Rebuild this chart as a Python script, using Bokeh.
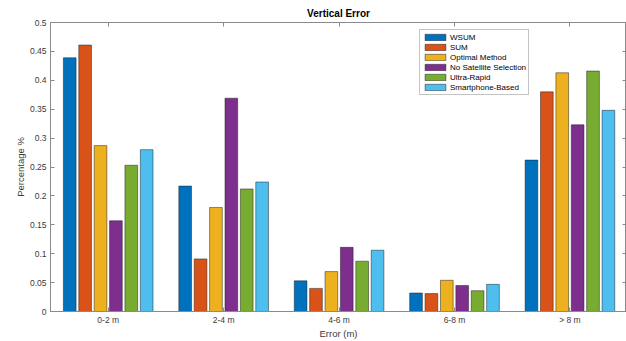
from bokeh.plotting import figure
from bokeh.models import (ColumnDataSource, Range1d, FixedTicker, LinearAxis,
                          CustomJSTickFormatter)
from bokeh.transform import dodge
from bokeh.embed import file_html
from bokeh.resources import INLINE

# ---- data ----
categories = ["0-2 m", "2-4 m", "4-6 m", "6-8 m", "> 8 m"]
series_names = ["WSUM", "SUM", "Optimal Method", "No Satellite Selection",
                "Ultra-Rapid", "Smartphone-Based"]
wsum = [0.439, 0.217, 0.053, 0.032, 0.262]
sum_vals = [0.461, 0.091, 0.040, 0.031, 0.380]
optimal = [0.287, 0.180, 0.069, 0.054, 0.413]
no_sat = [0.157, 0.369, 0.111, 0.045, 0.323]
ultra_rapid = [0.253, 0.212, 0.087, 0.036, 0.416]
smartphone = [0.280, 0.224, 0.106, 0.047, 0.348]
y_ticks = [0, 0.05, 0.1, 0.15, 0.2, 0.25, 0.3, 0.35, 0.4, 0.45, 0.5]

colors = ["#0072BD", "#D95319", "#EDB120", "#7E2F8E", "#77AC30", "#4DBEEE"]
series = [wsum, sum_vals, optimal, no_sat, ultra_rapid, smartphone]
keys = ["s0", "s1", "s2", "s3", "s4", "s5"]

pos = list(range(1, len(categories) + 1))
data = {"x": pos}
for k, s in zip(keys, series):
    data[k] = s
source = ColumnDataSource(data)

FONT = "Liberation Sans"
AX = "#8a8a8a"
TXT = "#3a3a3a"

p = figure(width=626, height=341, output_backend="svg", toolbar_location=None,
           x_range=Range1d(0.5, 5.49), y_range=Range1d(0, 0.5),
           min_border_left=50, min_border_right=0, min_border_top=22,
           min_border_bottom=0, background_fill_color="white",
           border_fill_color="white")
p.outline_line_color = AX
p.outline_line_width = 1
p.xgrid.visible = False
p.ygrid.visible = False

step = 0.8 / 6
for i, (k, name, c) in enumerate(zip(keys, series_names, colors)):
    p.vbar(x=dodge("x", (i - 2.5) * step, range=p.x_range), top=k, width=0.11,
           source=source, fill_color=c, line_color="#1a1a1a", line_width=0.6,
           line_alpha=0.8, legend_label=name)

# bottom axis
xa = p.xaxis[0]
xa.ticker = FixedTicker(ticks=pos)
xa.major_label_overrides = {i: c for i, c in zip(pos, categories)}
xa.axis_label = "Error (m)"
ya = p.yaxis[0]
ya.ticker = FixedTicker(ticks=y_ticks)
ya.formatter = CustomJSTickFormatter(code="return String(Number(tick.toFixed(2)));")
ya.axis_label = "Percentage %"

for ax in (xa, ya):
    ax.axis_line_color = AX
    ax.major_tick_line_color = AX
    ax.major_tick_in = 4
    ax.major_tick_out = 0
    ax.minor_tick_line_color = None
    ax.major_label_text_font = FONT
    ax.major_label_text_font_size = "8.5px"
    ax.major_label_text_color = TXT
    ax.axis_label_text_font = FONT
    ax.axis_label_text_font_size = "9.5px"
    ax.axis_label_text_font_style = "normal"
    ax.axis_label_text_color = TXT
xa.major_label_standoff = 3
xa.axis_label_standoff = 0
ya.major_label_standoff = 4
ya.axis_label_standoff = 1

blank = CustomJSTickFormatter(code="return '';")
# top axis (ticks only)
top = LinearAxis(ticker=FixedTicker(ticks=pos), formatter=blank, axis_line_color=AX,
                 major_tick_line_color=AX, major_tick_in=4, major_tick_out=0,
                 minor_tick_line_color=None, major_label_standoff=0)
p.add_layout(top, "above")
right = LinearAxis(ticker=FixedTicker(ticks=y_ticks), formatter=blank,
                   axis_line_color=None,
                   major_tick_line_color=AX, major_tick_in=4, major_tick_out=0,
                   minor_tick_line_color=None, major_label_standoff=0)
p.add_layout(right, "right")

# title
p.title.text = "Vertical Error"
p.title.align = "center"
p.title.text_font = FONT
p.title.text_font_size = "10px"
p.title.text_font_style = "bold"
p.title.text_color = "#000000"
p.title.standoff = 7

# legend
lg = p.legend[0]
lg.location = (369, 216)
lg.label_text_font = FONT
lg.label_text_font_size = "8px"
lg.label_text_color = "#000000"
lg.glyph_width = 26
lg.glyph_height = 8
lg.label_height = 10
lg.label_standoff = 2
lg.spacing = 0
lg.padding = 2
lg.margin = 0
lg.border_line_color = AX
lg.border_line_width = 1
lg.background_fill_color = "white"
lg.background_fill_alpha = 1

open("out.html", "w").write(file_html(p, INLINE))
